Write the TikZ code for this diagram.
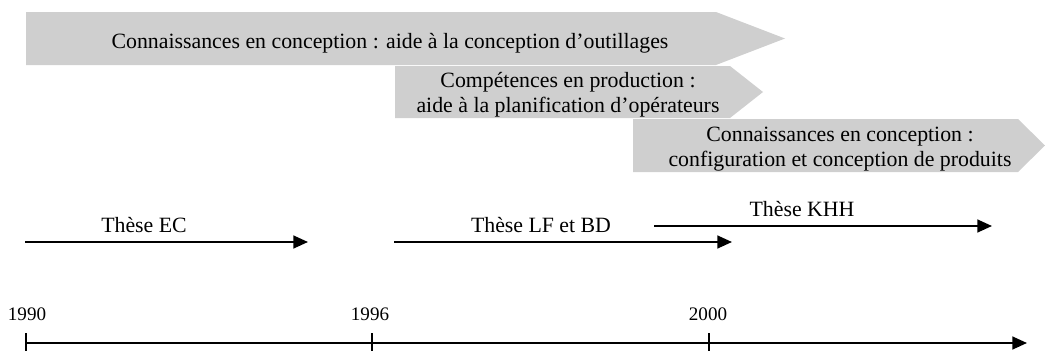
\documentclass[tikz,border=0pt]{standalone}
\usepackage{fontspec}
\setmainfont{Liberation Serif}
\usepackage{tikz}
\usetikzlibrary{arrows.meta}
\usetikzlibrary{positioning}
\definecolor{bandegris}{RGB}{207,207,207}
\tikzset{>={Triangle[length=8pt,width=7pt]},
  bande/.style={fill=bandegris,draw=none},
  txtbande/.style={align=center,font=\fontsize{12}{13.5}\selectfont,inner sep=0pt},
  these/.style={line width=1.1pt,->},
  txtthese/.style={font=\fontsize{12}{14}\selectfont,inner sep=0pt,anchor=base},
  txtan/.style={font=\fontsize{10.5}{12}\selectfont,inner sep=0pt,anchor=base}}

\begin{document}
\begin{tikzpicture}[x=0.55pt,y=-0.55pt,line cap=butt]

  \useasboundingbox (0,0) rectangle (1045,351);

  % les trois bandes grises
  \fill [bande] (26,12) -- (716,12) -- (785,38.5) -- (716,65) -- (26,65) -- cycle;
  \fill [bande] (395,66) -- (730,66) -- (763,92) -- (730,118) -- (395,118) -- cycle;
  \fill [bande] (633,119) -- (1018,119) -- (1045,145.5) -- (1018,172) -- (633,172) -- cycle;

  \node [txtbande,anchor=base] (outil) at (390,48) {Connaissances en conception : aide à la conception d’outillages};
  \node [txtbande] (oper) at (568,95) {Compétences en production :\\aide à la planification d’opérateurs};
  \node [txtbande] (prod) at (840,149) {Connaissances en conception :\\configuration et conception de produits};


  % les theses
  \coordinate (ecA) at (25,242);
  \coordinate (ecB) at (308,242);
  \coordinate (lfA) at (394,242);
  \coordinate (lfB) at (732,242);
  \coordinate (khA) at (654,226);
  \coordinate (khB) at (992,226);

  \draw [these] (ecA) -- (ecB);
  \draw [these] (lfA) -- (lfB);
  \draw [these] (khA) -- (khB);

  \node [txtthese] (ec) at (144,232) {Thèse EC};
  \node [txtthese] (lf) at (541,232) {Thèse LF et BD};
  \node [txtthese] (khh) at (802,216) {Thèse KHH};


  % l'axe du temps
  \coordinate (an90) at (26,343);
  \coordinate (an96) at (372,343);
  \coordinate (an00) at (709,343);
  \coordinate (fin) at (1027,343);

  \draw [these] (an90) -- (fin);
  \foreach \a in {an90,an96,an00}
    \draw [line width=0.8pt] (\a) ++(0,-10) -- ++(0,18);

  \node [txtan] (n90) at (27,320) {1990};
  \node [txtan] (n96) at (370,320) {1996};
  \node [txtan] (n00) at (708,320) {2000};

\end{tikzpicture}
\end{document}
